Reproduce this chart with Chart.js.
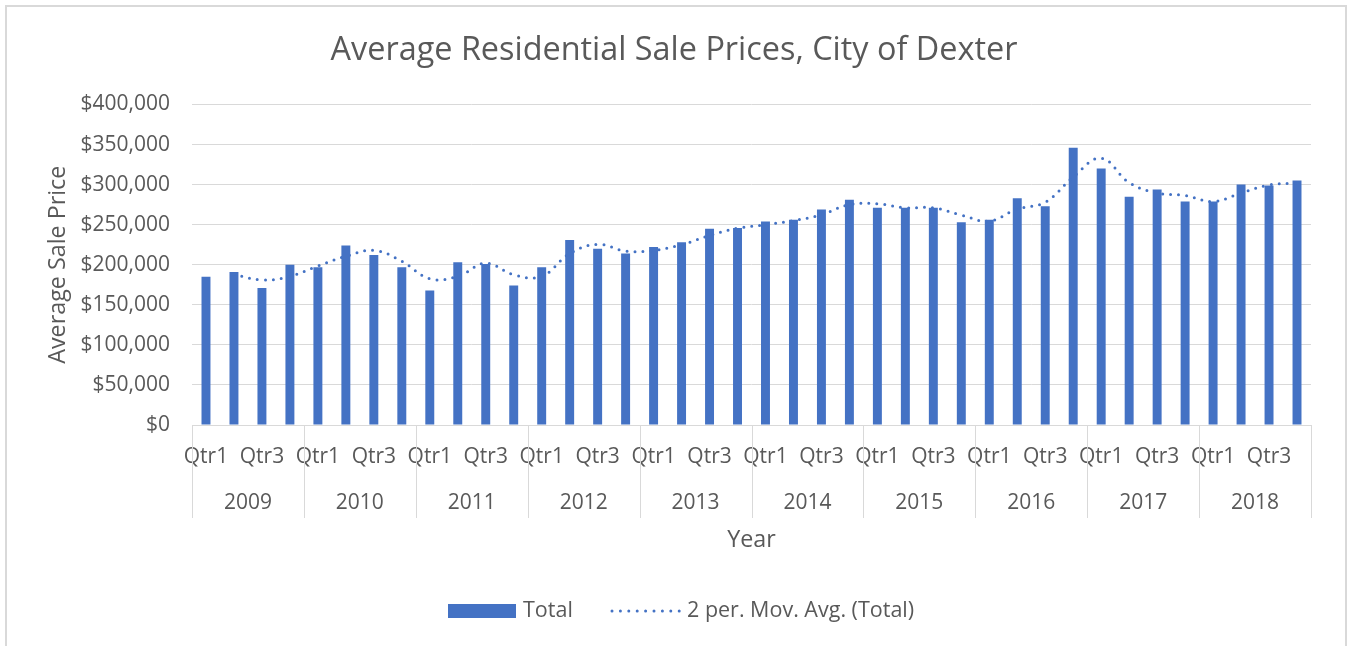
<!DOCTYPE html>
<html>
<head>
<meta charset="utf-8">
<script src="https://cdn.jsdelivr.net/npm/chart.js@4.4.1/dist/chart.umd.min.js"></script>
<style>
  html, body { margin: 0; padding: 0; background: #ffffff; overflow: hidden; }
  #wrap { position: relative; width: 1348px; height: 646px; }
  #frame { position: absolute; left: 5px; top: 5px; width: 1342px; height: 700px; box-sizing: border-box; border: 2px solid #d9d9d9; }
  #c { position: absolute; left: 0; top: 0; }
</style>
</head>
<body>
<div id="wrap">
  <div id="frame"></div>
  <canvas id="c" width="1348" height="646"></canvas>
</div>
<script>
const chartTitle = 'Average Residential Sale Prices, City of Dexter';
const yAxisTitle = 'Average Sale Price';
const xAxisTitle = 'Year';
const years = ['2009', '2010', '2011', '2012', '2013', '2014', '2015', '2016', '2017', '2018'];
const quarters = ['Qtr1', 'Qtr2', 'Qtr3', 'Qtr4'];
const totalLabel = 'Total';
const movAvgLabel = '2 per. Mov. Avg. (Total)';

// Average sale price per quarter, 2009 Qtr1 .. 2018 Qtr4
const totals = [
  185000, 191000, 171000, 200000,
  197000, 224000, 212000, 197000,
  168000, 203000, 201000, 174000,
  197000, 231000, 220000, 214000,
  222000, 228000, 245000, 246000,
  254000, 256000, 269000, 281000,
  271000, 271000, 271000, 253000,
  256000, 283000, 273000, 346000,
  320000, 285000, 294000, 279000,
  279000, 300000, 299000, 305000
];

// 2-period moving average trendline
const movAvg = [
  null, 188000, 181000, 185500,
  198500, 210500, 218000, 204500,
  182500, 185500, 202000, 187500,
  185500, 214000, 225500, 217000,
  218000, 225000, 236500, 245500,
  250000, 255000, 262500, 275000,
  276000, 271000, 271000, 262000,
  254500, 269500, 278000, 309500,
  333000, 302500, 289500, 286500,
  279000, 289500, 299500, 302000
];

const yMin = 0, yMax = 400000, yStep = 50000;

const categories = [];
years.forEach(y => quarters.forEach(q => categories.push(q)));

const blue = '#4472C4';
const textGray = '#595959';
const gridGray = '#d9d9d9';
const FONT = "'Open Sans', 'DejaVu Sans', sans-serif";
const TICK_SIZE = 21;
const AXIS_TITLE_SIZE = 23.3;

const yearAxisPlugin = {
  id: 'yearAxis',
  afterDraw(chart) {
    const ctx = chart.ctx;
    const xs = chart.scales.x;
    const ca = chart.chartArea;
    const n = quarters.length;
    ctx.save();
    ctx.strokeStyle = gridGray;
    ctx.lineWidth = 1;
    for (let k = 0; k <= years.length; k++) {
      let px;
      if (k === 0) px = ca.left;
      else if (k === years.length) px = ca.right;
      else px = (xs.getPixelForTick(k * n - 1) + xs.getPixelForTick(k * n)) / 2;
      px = Math.round(px) + 0.5;
      ctx.beginPath();
      ctx.moveTo(px, ca.bottom);
      ctx.lineTo(px, ca.bottom + 93);
      ctx.stroke();
    }
    ctx.fillStyle = textGray;
    ctx.font = TICK_SIZE + 'px ' + FONT;
    ctx.textAlign = 'center';
    ctx.textBaseline = 'middle';
    years.forEach((y, k) => {
      const cx = (xs.getPixelForTick(k * n + 1) + xs.getPixelForTick(k * n + 2)) / 2;
      ctx.fillText(y, cx, ca.bottom + 78.5);
    });
    ctx.restore();
  }
};

const legendPlugin = {
  id: 'customLegend',
  afterDraw(chart) {
    const ctx = chart.ctx;
    const ds = chart.data.datasets;
    const yc = 611;
    ctx.save();
    ctx.font = '21.5px ' + FONT;
    ctx.textBaseline = 'middle';
    ctx.textAlign = 'left';
    // bar item
    let x = 448;
    ctx.fillStyle = ds[1].backgroundColor;
    ctx.fillRect(x, yc - 7, 68, 14);
    ctx.fillStyle = textGray;
    ctx.fillText(ds[1].label, x + 75, yc);
    // line item
    x = 612;
    ctx.strokeStyle = ds[0].borderColor;
    ctx.lineWidth = 3;
    ctx.lineCap = 'round';
    ctx.setLineDash([0, 8.4]);
    ctx.beginPath();
    ctx.moveTo(x, yc);
    ctx.lineTo(x + 68, yc);
    ctx.stroke();
    ctx.setLineDash([]);
    ctx.fillStyle = textGray;
    ctx.fillText(ds[0].label, x + 75, yc);
    ctx.restore();
  }
};

new Chart(document.getElementById('c'), {
  type: 'bar',
  data: {
    labels: categories,
    datasets: [
      {
        type: 'line',
        label: movAvgLabel,
        data: movAvg,
        borderColor: blue,
        backgroundColor: blue,
        borderWidth: 3,
        borderDash: [0, 8],
        borderCapStyle: 'round',
        pointRadius: 0,
        tension: 0.4,
        fill: false,
        order: 0
      },
      {
        type: 'bar',
        label: totalLabel,
        data: totals,
        backgroundColor: blue,
        borderWidth: 0,
        barPercentage: 0.32,
        categoryPercentage: 1.0,
        order: 1
      }
    ]
  },
  options: {
    responsive: false,
    animation: false,
    devicePixelRatio: 1,
    layout: { padding: { left: 0, right: 0, top: 0, bottom: 92 } },
    plugins: {
      legend: { display: false },
      tooltip: { enabled: false },
      title: {
        display: true,
        text: chartTitle,
        color: textGray,
        font: { family: FONT, size: 32.4, weight: 'normal' },
        padding: { top: 31.6, bottom: 34 }
      }
    },
    scales: {
      x: {
        offset: true,
        grid: { display: false, drawTicks: false },
        border: { display: true, color: gridGray, width: 1 },
        ticks: {
          autoSkip: false,
          maxRotation: 0,
          minRotation: 0,
          padding: 19.4,
          color: textGray,
          font: { family: FONT, size: TICK_SIZE },
          callback: function (v, i) { return i % 2 === 0 ? this.getLabelForValue(v) : ''; }
        },
        title: {
          display: true,
          text: xAxisTitle,
          color: textGray,
          font: { family: FONT, size: AXIS_TITLE_SIZE },
          padding: { top: 0, bottom: 0 }
        },
        afterFit(scale) { scale.height = 129; }
      },
      y: {
        min: yMin,
        max: yMax,
        grid: { color: gridGray, lineWidth: 1, drawTicks: false },
        border: { display: false },
        ticks: {
          stepSize: yStep,
          padding: 22,
          color: textGray,
          font: { family: FONT, size: TICK_SIZE },
          callback: v => '$' + Number(v).toLocaleString('en-US')
        },
        title: {
          display: true,
          text: yAxisTitle,
          color: textGray,
          font: { family: FONT, size: AXIS_TITLE_SIZE },
          padding: { top: 44, bottom: 0 }
        },
        afterFit(scale) { scale.width = 192; }
      },
      rightSpace: {
        type: 'linear',
        position: 'right',
        display: true,
        grid: { display: false, drawTicks: false },
        border: { display: false },
        ticks: { display: false },
        afterFit(scale) { scale.width = 37; }
      }
    }
  },
  plugins: [yearAxisPlugin, legendPlugin]
});
</script>
</body>
</html>
